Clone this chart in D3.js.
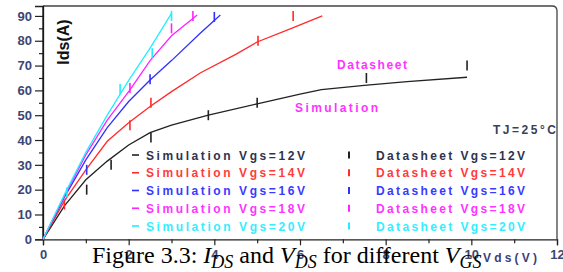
<!DOCTYPE html>
<html>
<head>
<meta charset="utf-8">
<script src="https://cdn.jsdelivr.net/npm/d3@7"></script>
<style>
  body { margin: 0; background: #fff; }
  svg { display: block; }
  text { font-family: "Liberation Sans", Arial, sans-serif; }
</style>
</head>
<body>
<svg id="chart" width="563" height="272" viewBox="0 0 563 272"></svg>
<script>
// Vgs values of the five curves
const vgsLevels = [12, 14, 16, 18, 20]
const seriesColors = ["#222222", "#ff2a2a", "#3030ff", "#ff22ff", "#22eeff"]
const textColors = ["#2e3350", "#ff3b3b", "#3a3aff", "#ff33ff", "#33eeff"]

// simulation curves [Vds, Ids]
const sim12 = [[0,0],[0.5,13.5],[1.0,24],[1.5,31.5],[2.0,38],[2.5,43],[3.0,46],[3.86,50],[5.0,54.6],[6.0,58.5],[6.5,60.3],[7.5,62],[8.5,63.5],[9.9,65.3]]
const sim14 = [[0,0],[0.5,15.5],[1.0,28],[1.5,39.5],[2.0,47],[2.5,53.5],[3.0,59.5],[3.67,67],[4.5,74.5],[5.0,79.5],[5.8,85],[6.52,90]]
const sim16 = [[0,0],[0.5,17],[1.0,32],[1.5,45],[2.0,55.5],[2.5,64.2],[3.0,72],[3.67,83],[4.14,90.4]]
const sim18 = [[0,0],[0.5,17.5],[1.0,34],[1.5,48],[2.03,60.2],[2.5,72],[3.0,82],[3.6,90.4]]
const sim20 = [[0,0],[0.5,18],[1.0,35],[1.5,50],[2.0,64],[2.5,77],[3.0,91]]

// datasheet points [Vds, Ids]
const ds12 = [[1.02,20],[1.59,30],[2.52,41],[3.86,50],[5.0,55],[7.55,65],[9.9,70]]
const ds14 = [[0.5,14],[2.03,46],[2.52,55],[5.02,80],[5.84,90]]
const ds16 = [[1.02,28],[2.5,64.5],[4.0,89.6]]
const ds18 = [[2.03,61],[3.0,85],[3.5,90]]
const ds20 = [[0.56,19],[1.8,60.6],[2.55,75],[3.0,90]]

const simSeries = [sim12, sim14, sim16, sim18, sim20]
const dsSeries = [ds12, ds14, ds16, ds18, ds20]

const yMajor = [0,10,20,30,40,50,60,70,80,90]
const yMinor = [5,15,25,35,45,55,65,75,85]
const xMajor = [0,2,4,6,8,10,12]
const xMinor = [1,3,5,7,9,11]

const svg = d3.select("#chart")
const plotLeft = 43, plotRight = 557, plotTop = 6, plotBottom = 239.3

const x = d3.scaleLinear().domain([0,12]).range([plotLeft, plotRight])
const y = d3.scaleLinear().domain([0,94]).range([plotBottom, plotTop])

// frame (top + right with rounded corner)
svg.append("path")
    .attr("d", `M${plotLeft},${plotTop} L${plotRight-5},${plotTop} Q${plotRight},${plotTop} ${plotRight},${plotTop+5} L${plotRight},${plotBottom}`)
    .attr("fill","none").attr("stroke","#444").attr("stroke-width",1.3)

// axes
const labelColor = "#3c4672"
svg.append("g").attr("transform",`translate(${plotLeft},0)`)
    .call(d3.axisLeft(y).tickValues(yMajor).tickSize(8).tickPadding(3))
svg.append("g").attr("transform",`translate(${plotLeft},0)`)
    .call(d3.axisLeft(y).tickValues(yMinor).tickSize(4).tickFormat(""))
    .select(".domain").remove()
svg.append("line").attr("x1",plotLeft).attr("x2",plotLeft).attr("y1",plotTop).attr("y2",plotBottom).attr("stroke","#111").attr("stroke-width",1.3)

svg.append("g").attr("transform",`translate(0,${plotBottom})`)
    .call(d3.axisBottom(x).tickValues(xMajor).tickSize(6).tickPadding(4))
svg.append("g").attr("transform",`translate(0,${plotBottom})`)
    .call(d3.axisBottom(x).tickValues(xMinor).tickSize(4).tickFormat(""))
    .select(".domain").remove()

svg.selectAll(".tick line").attr("stroke","#222").attr("stroke-width",1.2)
svg.selectAll(".domain").attr("stroke","#222").attr("stroke-width",1.3)
svg.selectAll(".tick text")
    .attr("fill", labelColor)
    .style("font-size","13px").style("font-weight","bold")
    .style("font-family","'Liberation Sans', Arial, sans-serif")

// curves
const line = d3.line().x(d=>x(d[0])).y(d=>y(d[1]))
svg.append("g").selectAll("path")
    .data(simSeries)
    .enter()
    .append("path")
    .attr("d", line)
    .attr("fill","none")
    .attr("stroke",(d,i)=>seriesColors[i])
    .attr("stroke-width",1.3)

// datasheet markers: short vertical bars
dsSeries.forEach((pts,i)=>{
    svg.append("g").selectAll("line")
        .data(pts)
        .enter()
        .append("line")
        .attr("x1",d=>x(d[0])).attr("x2",d=>x(d[0]))
        .attr("y1",d=>y(d[1])-5).attr("y2",d=>y(d[1])+5)
        .attr("stroke",seriesColors[i])
        .attr("stroke-width",1.6)
})

// axis titles
svg.append("text")
    .attr("transform","translate(69,42) rotate(-90)")
    .attr("text-anchor","middle")
    .style("font-size","16px").style("font-weight","bold")
    .attr("fill","#111")
    .text("Ids(A)")
svg.append("text")
    .attr("x",483).attr("y",262)
    .attr("textLength",54).attr("lengthAdjust","spacing")
    .style("font-size","12px").style("font-weight","bold")
    .attr("fill","#3a3f7a")
    .text("Vds(V)")

// annotations
svg.append("text").attr("x",337).attr("y",69)
    .attr("textLength",70).attr("lengthAdjust","spacing")
    .style("font-size","12px").style("font-weight","bold")
    .attr("fill","#ff33ff").text("Datasheet")
svg.append("text").attr("x",295).attr("y",112)
    .attr("textLength",83).attr("lengthAdjust","spacing")
    .style("font-size","12px").style("font-weight","bold")
    .attr("fill","#ff33ff").text("Simulation")
svg.append("text").attr("x",493).attr("y",134)
    .attr("textLength",63).attr("lengthAdjust","spacing")
    .style("font-size","12px").style("font-weight","bold")
    .attr("fill","#3a3f5a").text("TJ=25°C")

// legend
const legendY = d3.scaleLinear().domain([0,4]).range([155,226])
const legend = svg.append("g")
vgsLevels.forEach((v,i)=>{
    const ly = legendY(i)
    legend.append("line")
        .attr("x1",132).attr("x2",139).attr("y1",ly).attr("y2",ly)
        .attr("stroke",seriesColors[i]).attr("stroke-width",1.6)
    legend.append("text")
        .attr("x",146).attr("y",ly+4.5)
        .attr("textLength",159).attr("lengthAdjust","spacing")
        .style("font-size","12px").style("font-weight","bold")
        .attr("fill",textColors[i])
        .text(`Simulation Vgs=${v}V`)
    legend.append("line")
        .attr("x1",349).attr("x2",349).attr("y1",ly-3.5).attr("y2",ly+3.5)
        .attr("stroke",seriesColors[i]).attr("stroke-width",2)
    legend.append("text")
        .attr("x",376).attr("y",ly+4.5)
        .attr("textLength",149).attr("lengthAdjust","spacing")
        .style("font-size","12px").style("font-weight","bold")
        .attr("fill",textColors[i])
        .text(`Datasheet Vgs=${v}V`)
})

// caption
const cap = svg.append("text")
    .attr("x",92).attr("y",263)
    .style("font-family","'Liberation Serif', 'Times New Roman', serif")
    .style("font-size","24px")
    .attr("fill","#000")
const parts = [
    ["Figure 3.3: ", false, false],
    ["I", true, false], ["DS", true, true],
    [" and ", false, false],
    ["V", true, false], ["DS", true, true],
    [" for different ", false, false],
    ["V", true, false], ["GS", true, true]
]
let wasSub = false
parts.forEach(p=>{
    const t = cap.append("tspan").text(p[0])
    if (p[1]) t.style("font-style","italic")
    if (p[2]) { t.attr("dy",5).style("font-size","18px"); wasSub = true }
    else if (wasSub) { t.attr("dy",-5); wasSub = false }
})
</script>
</body>
</html>
